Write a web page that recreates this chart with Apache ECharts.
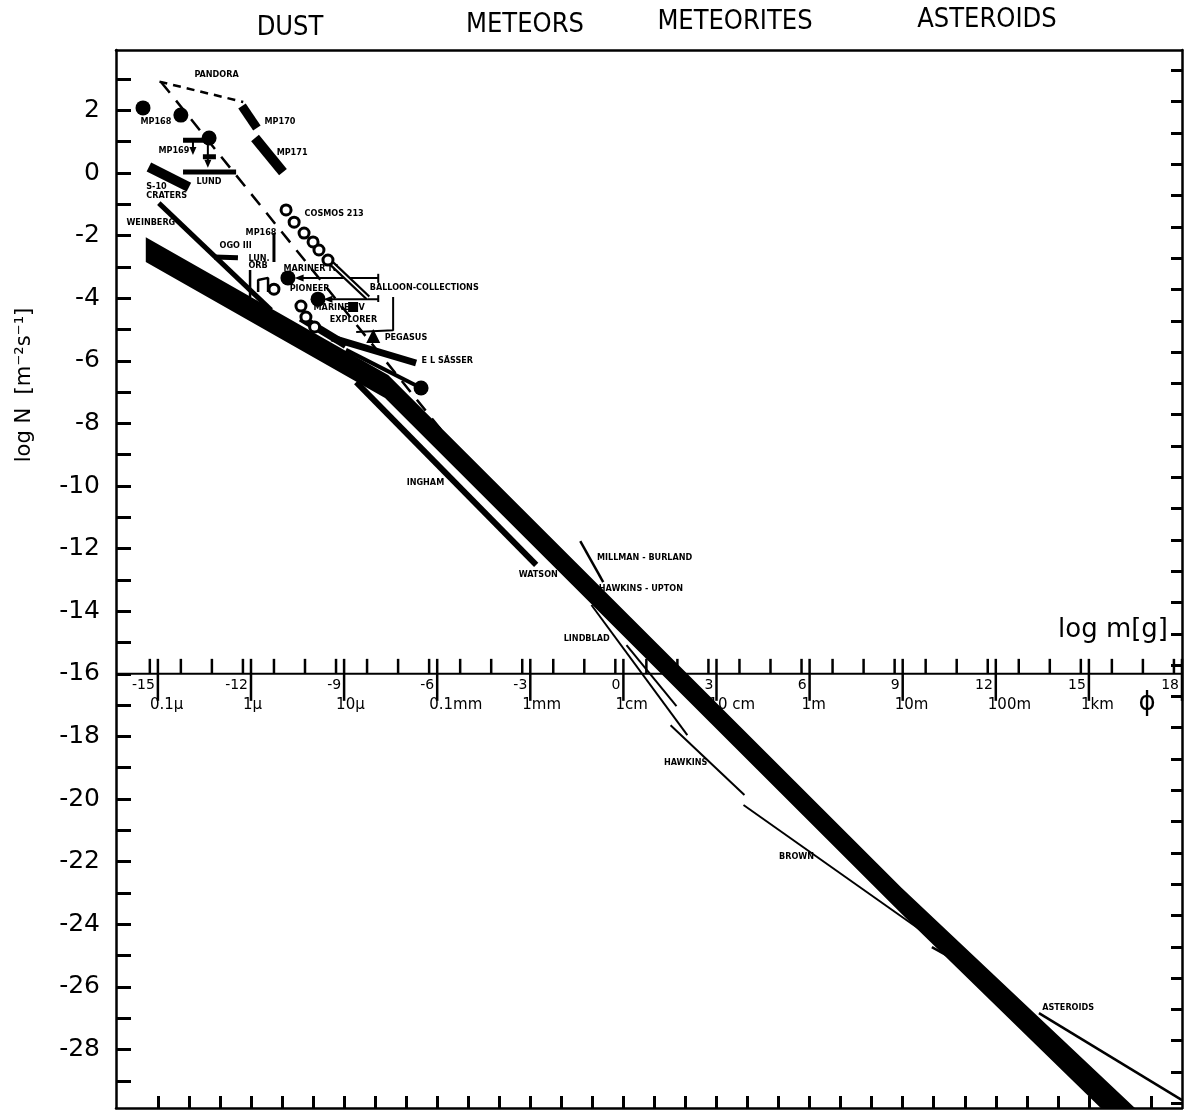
<!DOCTYPE html>
<html><head><meta charset="utf-8">
<script src="https://cdn.jsdelivr.net/npm/echarts@6/dist/echarts.min.js"></script>
<style>html,body{margin:0;padding:0;background:#fff}#c{width:1189px;height:1115px}</style>
</head><body><div id="c"></div>
<script>
// ---------- axes / ticks ----------
const X_MIN = -16.35, X_MAX = 18, Y_MIN = -29.87, Y_MAX = 3.93;
const leftTicks = [3,2,1,0,-1,-2,-3,-4,-5,-6,-7,-8,-9,-10,-11,-12,-13,-14,-15,-16,-17,-18,-19,-20,-21,-22,-23,-24,-25,-26,-27,-28,-29];
const leftLabels = [2,0,-2,-4,-6,-8,-10,-12,-14,-16,-18,-20,-22,-24,-26,-28];
const rightTicks = [3.28,2.28,1.28,0.28,-0.72,-1.72,-2.72,-3.72,-4.72,-5.72,-6.72,-7.72,-8.72,-9.72,-10.72,-11.72,-12.72,-13.72,-14.72,-15.72,-16.72,-17.72,-18.72,-19.72,-20.72,-21.72,-22.72,-23.72,-24.72,-25.72,-26.72,-27.72,-28.72,-29.72];
const bottomTicks = [-15,-14,-13,-12,-11,-10,-9,-8,-7,-6,-5,-4,-3,-2,-1,0,1,2,3,4,5,6,7,8,9,10,11,12,13,14,15,16,17];
// inner log m axis (drawn at log N = -16)
const massAxisLevel = -16;
const massMinorTicks = [-15.26,-14.26,-13.26,-12.26,-11.26,-10.26,-9.26,-8.26,-7.26,-6.26,-5.26,-4.26,-3.26,-2.26,-1.26,-0.26,0.74,1.74,2.74,3.74,4.74,5.74,6.74,7.74,8.74,9.74,10.74,11.74,12.74,13.74,14.74,15.74,16.74,17.74];
const massMajorTicks = [-15,-12,-9,-6,-3,0,3,6,9,12,15,18];
const massMajorLabels = ['-15','-12','-9','-6','-3','0','3','6','9','12','15','18'];
const sizeLabels = ['0.1\u03bc','1\u03bc','10\u03bc','0.1mm','1mm','1cm','10 cm','1m','10m','100m','1km',''];

// ---------- main envelope band ----------
const bandUpper = [[-15.39,-2.05],[-7.58,-6.45],[8.97,-22.84],[16.90,-30.26]];
const bandLower = [[-15.39,-2.84],[-7.68,-7.19],[8.97,-23.67],[15.95,-30.42]];

// ---------- individual measurements (log m, log N) ----------
const pandora = [[-14.95,2.92],[-12.25,2.27]];
const mp170 = [[-12.29,2.14],[-11.81,1.44]];
const mp171 = [[-11.87,1.12],[-10.97,0.03]];
const mp168Envelope = [[-14.90,2.91],[-5.61,-8.53]];
const mp169Bar = [[-14.19,1.05],[-13.19,1.05]];
const mp169Small = [[-13.55,0.52],[-13.13,0.52]];
const mp169Stem1 = [[-13.87,1.05],[-13.87,0.75]];
const mp169Stem2 = [[-13.39,1.05],[-13.39,0.35]];
const mp169Heads = [[-13.87,0.70],[-13.39,0.30]];
const lund = [[-14.19,0.03],[-12.48,0.03]];
const s10 = [[-15.29,0.19],[-14.00,-0.45]];
const weinberg = [[-14.97,-0.96],[-11.35,-4.38]];
const ogo = [[-13.19,-2.68],[-12.42,-2.71]];
const mp168Bar = [[-11.26,-1.92],[-11.26,-2.84]];
const lunOrbLine = [[-12.03,-3.10],[-12.03,-3.96]];
const lunOrbBox = [[-11.77,-3.80],[-11.77,-3.42],[-11.45,-3.35],[-11.45,-3.80]];
const balloonArrow1 = [[-7.90,-3.35],[-10.45,-3.35]];
const balloonArrow2 = [[-7.90,-4.03],[-9.52,-4.03]];
const balloonHeads = [[-10.45,-3.35],[-9.52,-4.03]];
const balloonBracket1 = [[-7.90,-3.22],[-7.90,-3.51]];
const balloonBracket2 = [[-7.90,-3.90],[-7.90,-4.12]];
const explorerBracket = [[-7.42,-3.96],[-7.42,-5.02],[-8.61,-5.08]];
const cosmosTail = [[-9.52,-2.78],[-8.23,-3.99]];
const cluster = [[-10.39,-4.63],[-8.94,-5.50]];
const elsasser = [[-9.40,-5.27],[-6.68,-6.07]];
const elsDotLine = [[-8.94,-5.65],[-6.52,-6.87]];
const ingham = [[-8.61,-6.68],[-2.81,-12.52]];
const millman = [[-1.39,-11.76],[-0.65,-13.07]];
const lindblad = [[-1.03,-13.80],[2.06,-17.96]];
const lindblad2 = [[0.10,-15.08],[1.71,-17.03]];
const hawkins = [[1.52,-17.64],[3.90,-19.87]];
const brown1 = [[3.87,-20.19],[9.94,-24.44]];
const brown2 = [[9.94,-24.73],[10.58,-25.08]];
const asteroids = [[13.39,-26.84],[18.0,-29.62]];

const filledDots = [[-15.48,2.08],[-14.26,1.85],[-13.35,1.12],[-10.81,-3.35],[-9.84,-4.03],[-6.52,-6.87]];
const cosmosCircles = [[-10.87,-1.18],[-10.61,-1.57],[-10.29,-1.92],[-10.00,-2.20],[-9.81,-2.46],[-9.52,-2.78]];
const pioneerCircles = [[-11.26,-3.71],[-10.39,-4.25],[-10.23,-4.60],[-9.95,-4.92]];
const explorerSquare = [[-8.71,-4.28]];
const pegasus = [[-8.06,-5.21]];

const textLabels = [
  [-13.84,3.15,'PANDORA'],[-15.58,1.63,'MP168'],[-11.58,1.63,'MP170'],[-15.00,0.73,'MP169'],
  [-11.19,0.64,'MP171'],[-13.77,-0.29,'LUND'],[-15.39,-0.45,'S-10'],[-15.39,-0.73,'CRATERS'],
  [-16.03,-1.60,'WEINBERG'],[-12.19,-1.92,'MP168'],[-13.03,-2.33,'OGO III'],[-12.10,-2.72,'LUN.'],
  [-12.10,-2.97,'ORB'],[-10.97,-3.04,'MARINER IV'],[-10.29,-1.31,'COSMOS 213'],
  [-8.19,-3.67,'BALLOON-COLLECTIONS'],[-10.77,-3.71,'PIONEER'],[-10.00,-4.31,'MARINER V'],
  [-9.48,-4.70,'EXPLORER'],[-7.71,-5.27,'PEGASUS'],[-6.52,-6.01,'E L S\u00c4SSER'],
  [-7.00,-9.90,'INGHAM'],[-3.39,-12.84,'WATSON'],[-0.87,-12.30,'MILLMAN - BURLAND'],
  [-0.81,-13.29,'HAWKINS - UPTON'],[-1.94,-14.86,'LINDBLAD'],[1.29,-18.85,'HAWKINS'],
  [5.00,-21.85,'BROWN'],[13.48,-26.65,'ASTEROIDS']
];
const topLabels = [['DUST',290,28],['METEORS',525,25],['METEORITES',735,22],['ASTEROIDS',987,20]];

// ---------- chart ----------
const chart = echarts.init(document.getElementById('c'), null, {renderer:'canvas'});
const BLACK = '#000';
const narrow = '"Liberation Sans Narrow","DejaVu Sans Condensed","Arial Narrow",sans-serif';

function lineSeries(data, width, dash, z){
  return {type:'line', data:data, symbol:'none', silent:true, z:z||3, animation:false,
    lineStyle:{color:BLACK, width:width, type:dash||'solid', cap:'butt', opacity:1}};
}

function renderBand(params, api){
  const pts = bandUpper.concat(bandLower.slice().reverse()).map(p => api.coord(p));
  const cs = params.coordSys;
  return {type:'polygon', shape:{points:pts}, style:{fill:BLACK},
    clipPath:{type:'rect', shape:{x:cs.x, y:cs.y, width:cs.width, height:cs.height}}};
}
function renderMinor(params, api){
  const p = api.coord([api.value(0), api.value(1)]);
  return {type:'line', shape:{x1:p[0], y1:p[1]-15, x2:p[0], y2:p[1]}, style:{stroke:BLACK, lineWidth:2.5}};
}
function renderMajor(params, api){
  const i = params.dataIndex;
  const p = api.coord([api.value(0), api.value(1)]);
  return {type:'group', children:[
    {type:'line', shape:{x1:p[0], y1:p[1]-15, x2:p[0], y2:p[1]+27}, style:{stroke:BLACK, lineWidth:2.5}},
    {type:'text', x:p[0]-3, y:p[1]+12, style:{text:massMajorLabels[i], fontSize:14, fontFamily:'DejaVu Sans', fill:BLACK, align:'right', verticalAlign:'middle'}},
    {type:'text', x:p[0]-8, y:p[1]+31, style:{text:sizeLabels[i], fontSize:15, fontFamily:'DejaVu Sans', fill:BLACK, align:'left', verticalAlign:'middle'}}
  ]};
}
const solid = {opacity:1};

const series = [
  {type:'scatter', z:1, silent:true, symbolSize:1, itemStyle:{color:'rgba(0,0,0,0)', opacity:1},
   data:textLabels.map(t => ({value:[t[0],t[1]], name:t[2]})),
   label:{show:true, position:'right', distance:0, formatter:'{b}', fontSize:9, fontWeight:'bold', fontFamily:narrow, color:BLACK, opacity:1}},
  {type:'custom', z:2, silent:true, renderItem:renderBand, data:[[0,-16]]},
  lineSeries([[X_MIN,massAxisLevel],[X_MAX,massAxisLevel]], 2),
  {type:'custom', z:3, silent:true, renderItem:renderMinor, data:massMinorTicks.map(v => [v, massAxisLevel])},
  {type:'custom', z:3, silent:true, renderItem:renderMajor, data:massMajorTicks.map(v => [v, massAxisLevel])},
  lineSeries(pandora, 2.5, [8,6]),
  lineSeries(mp170, 9),
  lineSeries(mp171, 10),
  lineSeries(mp168Envelope, 2.5, [14,10]),
  lineSeries(mp169Bar, 5),
  lineSeries(mp169Small, 5),
  lineSeries(mp169Stem1, 2),
  lineSeries(mp169Stem2, 2),
  lineSeries(lund, 5),
  lineSeries(s10, 10),
  lineSeries(weinberg, 5),
  lineSeries(ogo, 5),
  lineSeries(mp168Bar, 3),
  lineSeries(lunOrbLine, 2.5),
  lineSeries(lunOrbBox, 2.5),
  lineSeries(balloonArrow1, 2),
  lineSeries(balloonArrow2, 2),
  lineSeries(balloonBracket1, 2),
  lineSeries(balloonBracket2, 2),
  lineSeries(explorerBracket, 2),
  lineSeries(cosmosTail, 6),
  {type:'line', data:cosmosTail, symbol:'none', silent:true, z:4, lineStyle:{color:'#fff', width:1.5}},
  lineSeries(cluster, 8),
  lineSeries(elsasser, 7),
  lineSeries(elsDotLine, 4),
  lineSeries(ingham, 6),
  lineSeries(millman, 2.5),
  lineSeries(lindblad, 2),
  lineSeries(lindblad2, 2),
  lineSeries(hawkins, 2),
  lineSeries(brown1, 2),
  lineSeries(brown2, 2.5),
  lineSeries(asteroids, 2.5),
  {type:'scatter', z:5, silent:true, data:filledDots, symbol:'circle', symbolSize:15, itemStyle:{color:BLACK, opacity:1}},
  {type:'scatter', z:5, silent:true, data:cosmosCircles.concat(pioneerCircles), symbol:'circle', symbolSize:10, itemStyle:{color:'#fff', borderColor:BLACK, borderWidth:3, opacity:1}},
  {type:'scatter', z:5, silent:true, data:explorerSquare, symbol:'rect', symbolSize:10, itemStyle:{color:BLACK, opacity:1}},
  {type:'scatter', z:5, silent:true, data:pegasus, symbol:'triangle', symbolSize:14, itemStyle:{color:BLACK, opacity:1}},
  {type:'scatter', z:5, silent:true, data:balloonHeads, symbol:'triangle', symbolRotate:90, symbolSize:[7,9], itemStyle:{color:BLACK, opacity:1}},
  {type:'scatter', z:5, silent:true, data:mp169Heads, symbol:'triangle', symbolRotate:180, symbolSize:[7,8], itemStyle:{color:BLACK, opacity:1}}
];

const frameLine = {show:true, onZero:false, lineStyle:{color:BLACK, width:2.5}};
const option = {
  backgroundColor:'#fff',
  animation:false,
  grid:{left:116, right:7, top:50, bottom:7, containLabel:false},
  xAxis:[
    {type:'value', min:X_MIN, max:X_MAX, position:'bottom', axisLine:frameLine,
     axisTick:{show:true, inside:true, length:12, customValues:bottomTicks, lineStyle:{color:BLACK, width:3}},
     axisLabel:{show:false}, splitLine:{show:false}},
    {type:'value', min:X_MIN, max:X_MAX, position:'top', axisLine:frameLine,
     axisTick:{show:false}, axisLabel:{show:false}, splitLine:{show:false}}
  ],
  yAxis:[
    {type:'value', min:Y_MIN, max:Y_MAX, position:'left', axisLine:frameLine,
     axisTick:{show:true, inside:true, length:15, customValues:leftTicks, lineStyle:{color:BLACK, width:3}},
     axisLabel:{show:true, customValues:leftLabels, margin:16, fontSize:25, fontFamily:'DejaVu Sans', color:BLACK},
     splitLine:{show:false}},
    {type:'value', min:Y_MIN, max:Y_MAX, position:'right', axisLine:frameLine,
     axisTick:{show:true, inside:true, length:11, customValues:rightTicks, lineStyle:{color:BLACK, width:3}},
     axisLabel:{show:false}, splitLine:{show:false}}
  ],
  graphic:[
    ...topLabels.map(t => ({type:'text', x:t[1], y:t[2], style:{text:t[0], fontSize:27, fontFamily:narrow, fill:BLACK, align:'center', verticalAlign:'middle'}})),
    {type:'text', x:25, y:385, rotation:Math.PI/2, style:{text:'log N  [m\u207b\u00b2s\u207b\u00b9]', fontSize:21, fontFamily:'DejaVu Sans', fill:BLACK, align:'center', verticalAlign:'middle'}},
    {type:'text', x:1058, y:630, style:{text:'log m[g]', fontSize:26, fontFamily:'DejaVu Sans', fill:BLACK, align:'left', verticalAlign:'middle'}},
    {type:'text', x:1147, y:703, style:{text:'\u03d5', fontSize:26, fontFamily:'DejaVu Sans', fill:BLACK, align:'center', verticalAlign:'middle'}}
  ],
  series:series
};
chart.setOption(option);
</script></body></html>
